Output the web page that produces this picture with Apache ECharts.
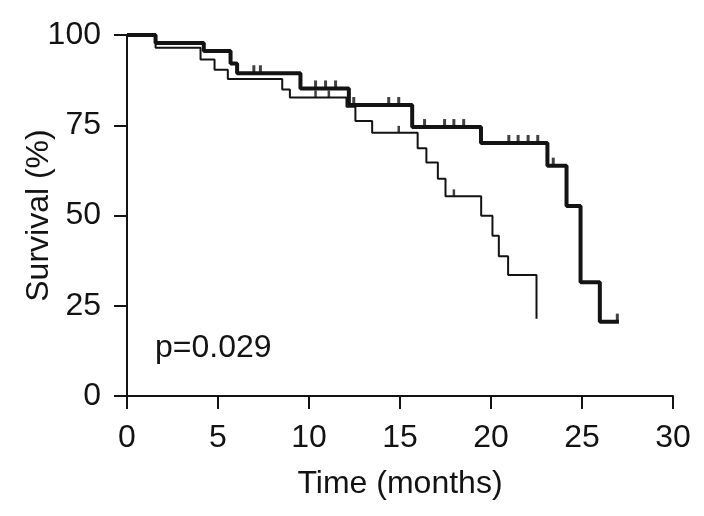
<!DOCTYPE html>
<html>
<head>
<meta charset="utf-8">
<script src="https://cdn.jsdelivr.net/npm/echarts@6/dist/echarts.min.js"></script>
<style>html,body{margin:0;padding:0;background:#fff}#c{width:704px;height:516px}</style>
</head>
<body>
<div id="c"></div>
<script>
// Thick curve: event times (months) and survival (%) after each step
var thickT = [0, 1.57, 4.22, 5.69, 6.05, 9.53, 12.19, 15.67, 19.45, 23.1, 24.15, 24.92, 25.98, 27.03];
var thickS = [100, 97.8, 95.6, 92.1, 89.4, 85.2, 80.6, 74.5, 70.1, 63.8, 52.6, 31.5, 20.6, 20.6];
// Thin curve
var thinT = [0, 1.57, 4.04, 4.81, 5.54, 8.53, 8.95, 12.06, 12.55, 13.47, 15.97, 16.45, 17.08, 17.5, 19.46, 20.08, 20.43, 20.94, 22.5];
var thinS = [100, 96.5, 93.2, 90.4, 87.8, 84.9, 82.7, 80.1, 76.2, 72.9, 68.6, 64.7, 60.2, 55.3, 49.9, 44.4, 38.7, 33.5, 21.4];
// Censor marks (times)
var thickCens = [6.97, 7.33, 10.36, 10.91, 11.46, 12.46, 14.38, 14.93, 16.35, 17.45, 17.96, 18.5, 20.98, 21.49, 22.04, 22.57, 23.42, 26.94];
var thinCens = [10.36, 11.09, 14.93, 17.96];
// Axis ticks
var xTicks = [0, 5, 10, 15, 20, 25, 30];
var yTicks = [0, 25, 50, 75, 100];
var pText = 'p=0.029';

function pairs(t, s) { return t.map(function (v, i) { return [v, s[i]]; }); }
function survAt(t, s, x) {
  var v = s[0];
  for (var i = 0; i < t.length; i++) { if (t[i] <= x) v = s[i]; }
  return v;
}
function censPts(c, t, s) { return c.map(function (x) { return [x, survAt(t, s, x)]; }); }

var col = '#131313';
var font = 'Liberation Sans, Arial, Helvetica, sans-serif';
var fs = 32;
var chart = echarts.init(document.getElementById('c'), null, { renderer: 'canvas' });
chart.setOption({
  animation: false,
  backgroundColor: '#fff',
  grid: { left: 127, right: 31, top: 35, bottom: 120, containLabel: false, outerBoundsMode: 'none' },
  xAxis: {
    type: 'value', min: xTicks[0], max: xTicks[xTicks.length - 1], interval: 5,
    name: 'Time (months)', nameLocation: 'middle', nameGap: 72, nameMoveOverlap: false,
    nameTextStyle: { fontSize: fs, color: col, fontFamily: font },
    axisLine: { show: true, onZero: false, lineStyle: { color: col, width: 2 } },
    axisTick: { show: true, inside: false, length: 13, lineStyle: { color: col, width: 2 } },
    axisLabel: { fontSize: fs, color: col, fontFamily: font, margin: 26 },
    splitLine: { show: false }
  },
  yAxis: {
    type: 'value', min: yTicks[0], max: yTicks[yTicks.length - 1], interval: 25,
    name: 'Survival (%)', nameLocation: 'middle', nameGap: 72, nameMoveOverlap: false,
    nameTextStyle: { fontSize: fs, color: col, fontFamily: font },
    axisLine: { show: true, onZero: false, lineStyle: { color: col, width: 2 } },
    axisTick: { show: true, inside: false, length: 13, lineStyle: { color: col, width: 2 } },
    axisLabel: { fontSize: fs, color: col, fontFamily: font, margin: 26 },
    splitLine: { show: false }
  },
  graphic: [{
    type: 'text', left: 155, top: 332,
    style: { text: pText, fontSize: fs, fill: col, fontFamily: font }
  }],
  series: [
    {
      type: 'line', step: 'end', data: pairs(thinT, thinS), showSymbol: false,
      lineStyle: { color: col, width: 2 }, z: 3
    },
    {
      type: 'line', step: 'end', data: pairs(thickT, thickS), showSymbol: false,
      lineStyle: { color: col, width: 4 }, z: 4
    },
    {
      type: 'scatter', data: censPts(thinCens, thinT, thinS),
      symbol: 'rect', symbolSize: [2.5, 7], symbolOffset: [0, -3.5],
      itemStyle: { color: col }, z: 5
    },
    {
      type: 'scatter', data: censPts(thickCens, thickT, thickS),
      symbol: 'rect', symbolSize: [3, 8], symbolOffset: [0, -4],
      itemStyle: { color: col }, z: 5
    }
  ]
});
</script>
</body>
</html>
